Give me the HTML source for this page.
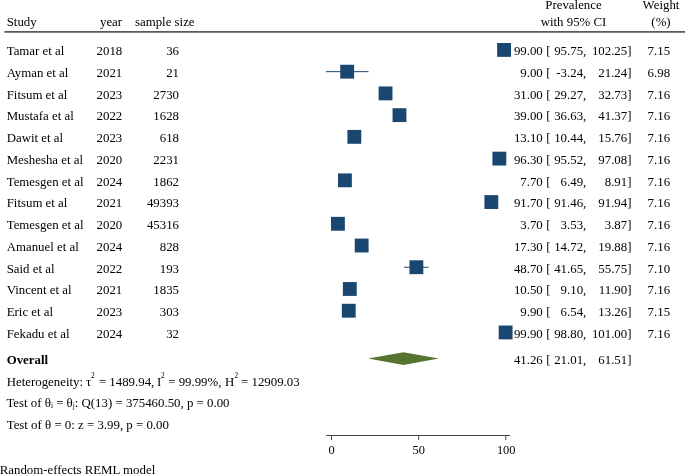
<!DOCTYPE html>
<html><head><meta charset="utf-8"><title>Forest plot</title>
<style>
html,body{margin:0;padding:0;background:#fff;}
svg{display:block;will-change:transform;}
text{font-family:"Liberation Serif","Times New Roman",serif;font-size:12.85px;fill:#000;}
.r{text-anchor:end;} .m{text-anchor:middle;} .b{font-weight:bold;}
.ax{font-size:12.4px;}
.sup{font-size:7.3px;}
</style></head><body>
<svg width="685" height="475" viewBox="0 0 685 475">
<rect width="685" height="475" fill="#fff"/>
<g>

<text x="6.7" y="26">Study</text>
<text x="122.1" y="26" class="r">year</text>
<text x="135" y="26">sample size</text>
<text x="573.5" y="8.9" class="m">Prevalence</text>
<text x="573.5" y="26.4" class="m">with 95% CI</text>
<text x="661" y="8.9" class="m">Weight</text>
<text x="661" y="26.4" class="m">(%)</text>
<line x1="4.4" x2="685" y1="31.9" y2="31.9" stroke="#5a5a5a" stroke-width="1.6"/>
<text x="6.7" y="55.20">Tamar et al</text>
<text x="96.6" y="55.20">2018</text>
<text x="179" y="55.20" class="r">36</text>
<text x="542.8" y="55.20" class="r">99.00</text>
<text x="546.3" y="55.20">[</text>
<text x="586.3" y="55.20" class="r">95.75,</text>
<text x="631.5" y="55.20" class="r">102.25]</text>
<text x="670.1" y="55.20" class="r">7.15</text>
<line x1="498.39" x2="509.72" y1="49.94" y2="49.94" stroke="#1a476f" stroke-width="1"/>
<rect x="497.13" y="43.02" width="13.85" height="13.85" fill="#1a476f"/>
<text x="6.7" y="76.93">Ayman et al</text>
<text x="96.6" y="76.93">2021</text>
<text x="179" y="76.93" class="r">21</text>
<text x="542.8" y="76.93" class="r">9.00</text>
<text x="546.3" y="76.93">[</text>
<text x="586.3" y="76.93" class="r">-3.24,</text>
<text x="631.5" y="76.93" class="r">21.24]</text>
<text x="670.1" y="76.93" class="r">6.98</text>
<line x1="325.85" x2="368.52" y1="71.67" y2="71.67" stroke="#1a476f" stroke-width="1"/>
<rect x="340.26" y="64.75" width="13.85" height="13.85" fill="#1a476f"/>
<text x="6.7" y="98.66">Fitsum et al</text>
<text x="96.6" y="98.66">2023</text>
<text x="179" y="98.66" class="r">2730</text>
<text x="542.8" y="98.66" class="r">31.00</text>
<text x="546.3" y="98.66">[</text>
<text x="586.3" y="98.66" class="r">29.27,</text>
<text x="631.5" y="98.66" class="r">32.73]</text>
<text x="670.1" y="98.66" class="r">7.16</text>
<line x1="382.52" x2="388.55" y1="93.40" y2="93.40" stroke="#1a476f" stroke-width="1"/>
<rect x="378.61" y="86.48" width="13.85" height="13.85" fill="#1a476f"/>
<text x="6.7" y="120.39">Mustafa et al</text>
<text x="96.6" y="120.39">2022</text>
<text x="179" y="120.39" class="r">1628</text>
<text x="542.8" y="120.39" class="r">39.00</text>
<text x="546.3" y="120.39">[</text>
<text x="586.3" y="120.39" class="r">36.63,</text>
<text x="631.5" y="120.39" class="r">41.37]</text>
<text x="670.1" y="120.39" class="r">7.16</text>
<line x1="395.35" x2="403.61" y1="115.13" y2="115.13" stroke="#1a476f" stroke-width="1"/>
<rect x="392.55" y="108.21" width="13.85" height="13.85" fill="#1a476f"/>
<text x="6.7" y="142.12">Dawit et al</text>
<text x="96.6" y="142.12">2023</text>
<text x="179" y="142.12" class="r">618</text>
<text x="542.8" y="142.12" class="r">13.10</text>
<text x="546.3" y="142.12">[</text>
<text x="586.3" y="142.12" class="r">10.44,</text>
<text x="631.5" y="142.12" class="r">15.76]</text>
<text x="670.1" y="142.12" class="r">7.16</text>
<line x1="349.70" x2="358.97" y1="136.86" y2="136.86" stroke="#1a476f" stroke-width="1"/>
<rect x="347.41" y="129.94" width="13.85" height="13.85" fill="#1a476f"/>
<text x="6.7" y="163.86">Meshesha et al</text>
<text x="96.6" y="163.86">2020</text>
<text x="179" y="163.86" class="r">2231</text>
<text x="542.8" y="163.86" class="r">96.30</text>
<text x="546.3" y="163.86">[</text>
<text x="586.3" y="163.86" class="r">95.52,</text>
<text x="631.5" y="163.86" class="r">97.08]</text>
<text x="670.1" y="163.86" class="r">7.16</text>
<line x1="497.99" x2="500.71" y1="158.60" y2="158.60" stroke="#1a476f" stroke-width="1"/>
<rect x="492.43" y="151.67" width="13.85" height="13.85" fill="#1a476f"/>
<text x="6.7" y="185.59">Temesgen et al</text>
<text x="96.6" y="185.59">2024</text>
<text x="179" y="185.59" class="r">1862</text>
<text x="542.8" y="185.59" class="r">7.70</text>
<text x="546.3" y="185.59">[</text>
<text x="586.3" y="185.59" class="r">6.49,</text>
<text x="631.5" y="185.59" class="r">8.91]</text>
<text x="670.1" y="185.59" class="r">7.16</text>
<line x1="342.81" x2="347.03" y1="180.33" y2="180.33" stroke="#1a476f" stroke-width="1"/>
<rect x="338.00" y="173.40" width="13.85" height="13.85" fill="#1a476f"/>
<text x="6.7" y="207.32">Fitsum et al</text>
<text x="96.6" y="207.32">2021</text>
<text x="179" y="207.32" class="r">49393</text>
<text x="542.8" y="207.32" class="r">91.70</text>
<text x="546.3" y="207.32">[</text>
<text x="586.3" y="207.32" class="r">91.46,</text>
<text x="631.5" y="207.32" class="r">91.94]</text>
<text x="670.1" y="207.32" class="r">7.16</text>
<line x1="490.91" x2="491.75" y1="202.06" y2="202.06" stroke="#1a476f" stroke-width="1"/>
<rect x="484.41" y="195.13" width="13.85" height="13.85" fill="#1a476f"/>
<text x="6.7" y="229.05">Temesgen et al</text>
<text x="96.6" y="229.05">2020</text>
<text x="179" y="229.05" class="r">45316</text>
<text x="542.8" y="229.05" class="r">3.70</text>
<text x="546.3" y="229.05">[</text>
<text x="586.3" y="229.05" class="r">3.53,</text>
<text x="631.5" y="229.05" class="r">3.87]</text>
<text x="670.1" y="229.05" class="r">7.16</text>
<line x1="337.65" x2="338.25" y1="223.79" y2="223.79" stroke="#1a476f" stroke-width="1"/>
<rect x="331.02" y="216.86" width="13.85" height="13.85" fill="#1a476f"/>
<text x="6.7" y="250.78">Amanuel et al</text>
<text x="96.6" y="250.78">2024</text>
<text x="179" y="250.78" class="r">828</text>
<text x="542.8" y="250.78" class="r">17.30</text>
<text x="546.3" y="250.78">[</text>
<text x="586.3" y="250.78" class="r">14.72,</text>
<text x="631.5" y="250.78" class="r">19.88]</text>
<text x="670.1" y="250.78" class="r">7.16</text>
<line x1="357.16" x2="366.15" y1="245.52" y2="245.52" stroke="#1a476f" stroke-width="1"/>
<rect x="354.73" y="238.59" width="13.85" height="13.85" fill="#1a476f"/>
<text x="6.7" y="272.51">Said et al</text>
<text x="96.6" y="272.51">2022</text>
<text x="179" y="272.51" class="r">193</text>
<text x="542.8" y="272.51" class="r">48.70</text>
<text x="546.3" y="272.51">[</text>
<text x="586.3" y="272.51" class="r">41.65,</text>
<text x="631.5" y="272.51" class="r">55.75]</text>
<text x="670.1" y="272.51" class="r">7.10</text>
<line x1="404.10" x2="428.67" y1="267.25" y2="267.25" stroke="#1a476f" stroke-width="1"/>
<rect x="409.46" y="260.32" width="13.85" height="13.85" fill="#1a476f"/>
<text x="6.7" y="294.24">Vincent et al</text>
<text x="96.6" y="294.24">2021</text>
<text x="179" y="294.24" class="r">1835</text>
<text x="542.8" y="294.24" class="r">10.50</text>
<text x="546.3" y="294.24">[</text>
<text x="586.3" y="294.24" class="r">9.10,</text>
<text x="631.5" y="294.24" class="r">11.90]</text>
<text x="670.1" y="294.24" class="r">7.16</text>
<line x1="347.36" x2="352.24" y1="288.98" y2="288.98" stroke="#1a476f" stroke-width="1"/>
<rect x="342.88" y="282.06" width="13.85" height="13.85" fill="#1a476f"/>
<text x="6.7" y="315.97">Eric et al</text>
<text x="96.6" y="315.97">2023</text>
<text x="179" y="315.97" class="r">303</text>
<text x="542.8" y="315.97" class="r">9.90</text>
<text x="546.3" y="315.97">[</text>
<text x="586.3" y="315.97" class="r">6.54,</text>
<text x="631.5" y="315.97" class="r">13.26]</text>
<text x="670.1" y="315.97" class="r">7.15</text>
<line x1="342.90" x2="354.61" y1="310.71" y2="310.71" stroke="#1a476f" stroke-width="1"/>
<rect x="341.83" y="303.79" width="13.85" height="13.85" fill="#1a476f"/>
<text x="6.7" y="337.70">Fekadu et al</text>
<text x="96.6" y="337.70">2024</text>
<text x="179" y="337.70" class="r">32</text>
<text x="542.8" y="337.70" class="r">99.90</text>
<text x="546.3" y="337.70">[</text>
<text x="586.3" y="337.70" class="r">98.80,</text>
<text x="631.5" y="337.70" class="r">101.00]</text>
<text x="670.1" y="337.70" class="r">7.16</text>
<line x1="503.71" x2="507.54" y1="332.44" y2="332.44" stroke="#1a476f" stroke-width="1"/>
<rect x="498.70" y="325.52" width="13.85" height="13.85" fill="#1a476f"/>
<text x="6.7" y="364" class="b">Overall</text>
<text x="542.8" y="364" class="r">41.26</text>
<text x="546.3" y="364">[</text>
<text x="586.3" y="364" class="r">21.01,</text>
<text x="631.5" y="364" class="r">61.51]</text>
<polygon points="368.12,358.6 403.42,352.20000000000005 438.71,358.6 403.42,365.0" fill="#55752f"/>
<text y="385.5"><tspan x="6.7">Heterogeneity:</tspan><tspan x="85.9">τ</tspan><tspan class="sup" x="91.1" dy="-7.8">2</tspan><tspan x="98.9" dy="7.8">= 1489.94,</tspan><tspan x="157.0">I</tspan><tspan class="sup" x="161.1" dy="-7.8">2</tspan><tspan x="168.2" dy="7.8">= 99.99%,</tspan><tspan x="225.1">H</tspan><tspan class="sup" x="234.4" dy="-7.8">2</tspan><tspan x="241.0" dy="7.8">= 12909.03</tspan></text>
<text x="6.4" y="407">Test of θ<tspan class="sup" dy="1.2">i</tspan><tspan dy="-1.2"> = θ</tspan><tspan class="sup" dy="1.2">j</tspan><tspan dy="-1.2">: Q(13) = 375460.50, p = 0.00</tspan></text>
<text x="6.7" y="428.8">Test of θ = 0: z = 3.99, p = 0.00</text>
<text x="-0.3" y="474.4">Random-effects REML model</text>
<line x1="326.3" x2="510" y1="435.5" y2="435.5" stroke="#444" stroke-width="1"/>
<line x1="331.50" x2="331.50" y1="435.5" y2="440" stroke="#444" stroke-width="1"/>
<text x="331.50" y="454" class="m ax">0</text>
<line x1="418.65" x2="418.65" y1="435.5" y2="440" stroke="#444" stroke-width="1"/>
<text x="418.65" y="454" class="m ax">50</text>
<line x1="505.80" x2="505.80" y1="435.5" y2="440" stroke="#444" stroke-width="1"/>
<text x="506.20" y="454" class="m ax">100</text>
</g></svg></body></html>
